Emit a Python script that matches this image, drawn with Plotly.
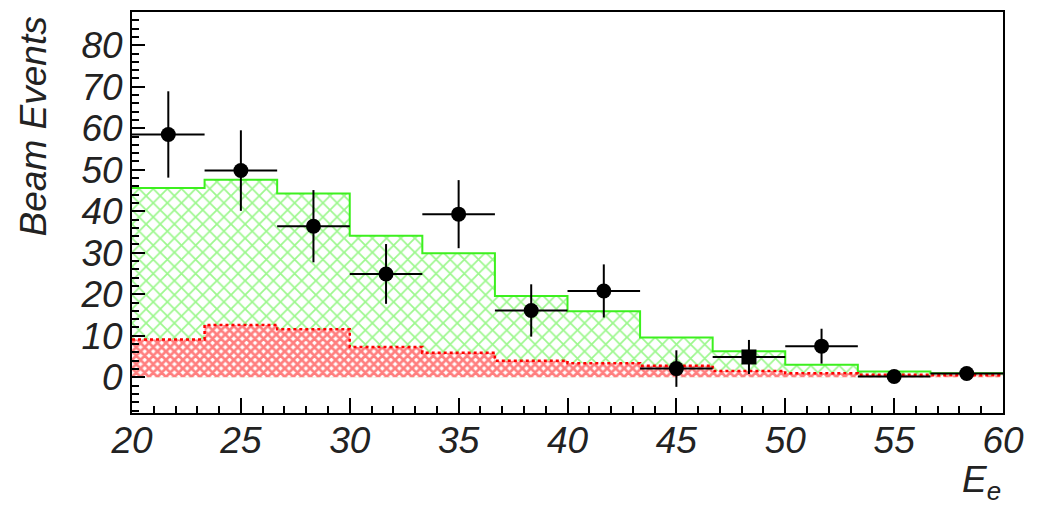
import plotly.graph_objects as go

# ---- data ----
bin_edges = [20.0, 23.333, 26.667, 30.0, 33.333, 36.667, 40.0, 43.333, 46.667, 50.0, 53.333, 56.667, 60.0]
bin_centers = [21.667, 25.0, 28.333, 31.667, 35.0, 38.333, 41.667, 45.0, 48.333, 51.667, 55.0, 58.333]
total_bkg = [45.6, 47.6, 44.3, 34.1, 29.9, 19.6, 15.9, 9.6, 6.3, 3.0, 1.4, 1.0]
red_bkg = [9.1, 12.6, 11.6, 7.3, 5.9, 4.0, 3.4, 2.8, 1.5, 1.0, 0.6, 0.5]
data_y = [58.5, 49.8, 36.4, 24.9, 39.3, 16.1, 20.8, 2.1, 4.9, 7.5, 0.2, 0.9]
data_err = [10.4, 9.7, 8.7, 7.2, 8.2, 6.3, 6.4, 4.4, 4.1, 4.2, 0.5, 0.5]
marker_symbols = ["circle"] * 8 + ["square"] + ["circle"] * 3
x_tick_vals = [20, 25, 30, 35, 40, 45, 50, 55, 60]
y_tick_vals = [0, 10, 20, 30, 40, 50, 60, 70, 80]

GREEN = "#3cf01e"
RED = "#ff0000"

half_w = [(bin_edges[i + 1] - bin_edges[i]) / 2 for i in range(len(bin_centers))]

fig = go.Figure()

fig.add_trace(go.Scatter(
    x=bin_edges, y=total_bkg + [total_bkg[-1]],
    mode="lines", line=dict(color=GREEN, width=2, shape="hv"),
    fill="tozeroy", fillcolor="white",
    fillpattern=dict(shape="x", size=10, solidity=0.32, fgcolor=GREEN, bgcolor="white"),
    showlegend=False, hoverinfo="skip"))

fig.add_trace(go.Scatter(
    x=bin_edges, y=red_bkg + [red_bkg[-1]],
    mode="lines", line=dict(color=RED, width=2.5, shape="hv", dash="dot"),
    fill="tozeroy", fillcolor="white",
    fillpattern=dict(shape="x", size=6, solidity=0.7, fgcolor=RED, bgcolor="white"),
    showlegend=False, hoverinfo="skip"))

fig.add_trace(go.Scatter(
    x=bin_centers, y=data_y, mode="markers",
    marker=dict(symbol=marker_symbols, size=15, color="black"),
    error_y=dict(type="data", array=data_err, color="black", thickness=2, width=0),
    error_x=dict(type="data", array=half_w, color="black", thickness=2, width=0),
    showlegend=False))

fig.update_xaxes(
    range=[20, 60], tickvals=x_tick_vals, ticks="inside", ticklen=15, tickwidth=2,
    tickcolor="black", showline=True, linecolor="black", linewidth=2, mirror=True,
    showgrid=False, zeroline=False,
    minor=dict(dtick=1, ticks="inside", ticklen=7, tickwidth=1.5, tickcolor="black", showgrid=False),
    tickfont=dict(family="Liberation Sans, Arial", size=37, color="#222", style="italic"),
    ticklabelstandoff=-6)

fig.update_yaxes(
    range=[-8.6, 88], tickvals=y_tick_vals, ticks="inside", ticklen=13, tickwidth=2,
    tickcolor="black", showline=True, linecolor="black", linewidth=2, mirror=True,
    showgrid=False, zeroline=False,
    minor=dict(dtick=2, ticks="inside", ticklen=7, tickwidth=1.5, tickcolor="black", showgrid=False),
    tickfont=dict(family="Liberation Sans, Arial", size=37, color="#222", style="italic"),
    ticksuffix="\u00a0\u00a0")

fig.add_annotation(
    text="<i>Beam Events</i>", xref="paper", yref="paper",
    x=-0.113, y=0.993, xanchor="center", yanchor="top", textangle=-90,
    showarrow=False, font=dict(family="Liberation Sans, Arial", size=37, color="#222"))

fig.add_annotation(
    text="<i>E<sub>e</sub></i>", xref="paper", yref="paper",
    x=1.0, y=-0.11, xanchor="right", yanchor="top",
    showarrow=False, font=dict(family="Liberation Sans, Arial", size=37, color="#222"))

fig.update_layout(
    width=1038, height=519,
    margin=dict(l=132, r=35, t=10, b=106),
    plot_bgcolor="white", paper_bgcolor="white")

fig.write_html("out.html")
